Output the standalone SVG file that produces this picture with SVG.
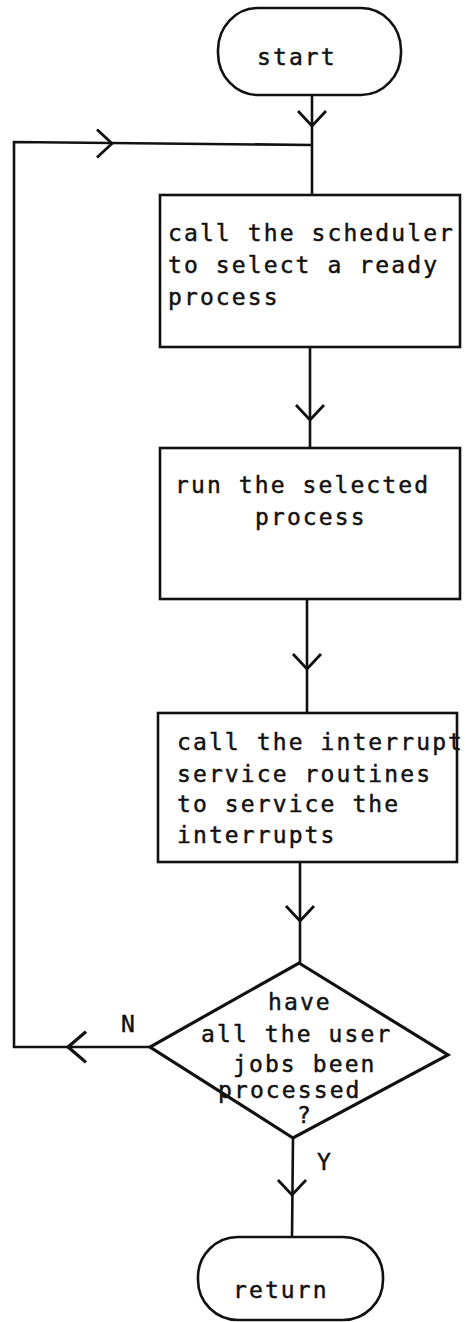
<svg xmlns="http://www.w3.org/2000/svg" xmlns:xlink="http://www.w3.org/1999/xlink" width="465" height="1322" viewBox="0 0 465 1322">
  <style>
    .shape { fill: #ffffff; stroke: #111111; stroke-width: 2.6; }
    .diamond { fill: #ffffff; stroke: #111111; stroke-width: 3.2; stroke-linejoin: miter; }
    .wire { fill: none; stroke: #111111; stroke-width: 2.6; }
    .head { fill: none; stroke: #111111; stroke-width: 2.8; stroke-linejoin: miter; }
    text { font-family: "DejaVu Sans Mono", "Liberation Mono", monospace; font-size: 23px; letter-spacing: 2.1px; fill: #111111; stroke: #111111; stroke-width: 0.45px; }
  </style>
  <defs>
    <!-- open chevron arrowhead, tip at origin, pointing along +x -->
    <path id="chev" class="head" d="M-15,-14 L0,0 L-15,14"/>
  </defs>

  <!-- connectors -->
  <g id="connectors">
    <path class="wire" d="M312,95 L312,195"/>
    <use xlink:href="#chev" transform="translate(312,126) rotate(90)"/>

    <path class="wire" d="M310,347 L310,448"/>
    <use xlink:href="#chev" transform="translate(310,420) rotate(90)"/>

    <path class="wire" d="M307,599 L307,713"/>
    <use xlink:href="#chev" transform="translate(307,669) rotate(90)"/>

    <path class="wire" d="M300,862 L300,963"/>
    <use xlink:href="#chev" transform="translate(300,921) rotate(90)"/>

    <path class="wire" d="M293,1138 L292,1237"/>
    <use xlink:href="#chev" transform="translate(292,1195) rotate(90)"/>

    <!-- "N" branch looping back to the top -->
    <path class="wire" d="M150,1047 L14,1047 L14,142 L312,145"/>
    <use xlink:href="#chev" transform="translate(68,1047) rotate(180) scale(1.2,1.1)"/>
    <use xlink:href="#chev" transform="translate(112,143.5)"/>

    <text x="121" y="1032">N</text>
    <text x="317" y="1170">Y</text>
  </g>

  <g id="start">
    <rect class="shape" x="218" y="8" width="183" height="87" rx="40" ry="42"/>
    <text x="257" y="65">start</text>
  </g>

  <g id="select-process">
    <rect class="shape" x="160" y="195" width="300" height="152"/>
    <text x="168" y="241">call the scheduler</text>
    <text x="168" y="273">to select a ready</text>
    <text x="168" y="305">process</text>
  </g>

  <g id="run-process">
    <rect class="shape" x="160" y="448" width="300" height="151"/>
    <text x="175" y="493">run the selected</text>
    <text x="255" y="525">process</text>
  </g>

  <g id="service-interrupts">
    <rect class="shape" x="158" y="713" width="299" height="149"/>
    <text x="177" y="750">call the interrupt</text>
    <text x="177" y="782">service routines</text>
    <text x="177" y="812">to service the</text>
    <text x="177" y="843">interrupts</text>
  </g>

  <g id="all-done">
    <polygon class="diamond" points="299,963 448,1055 293,1138 150,1047"/>
    <text x="268" y="1010">have</text>
    <text x="201" y="1042">all the user</text>
    <text x="233" y="1072">jobs been</text>
    <text x="218" y="1098">processed</text>
    <text x="297" y="1123">?</text>
  </g>

  <g id="return">
    <rect class="shape" x="198" y="1237" width="185" height="83" rx="40" ry="40"/>
    <text x="233" y="1298">return</text>
  </g>
</svg>
